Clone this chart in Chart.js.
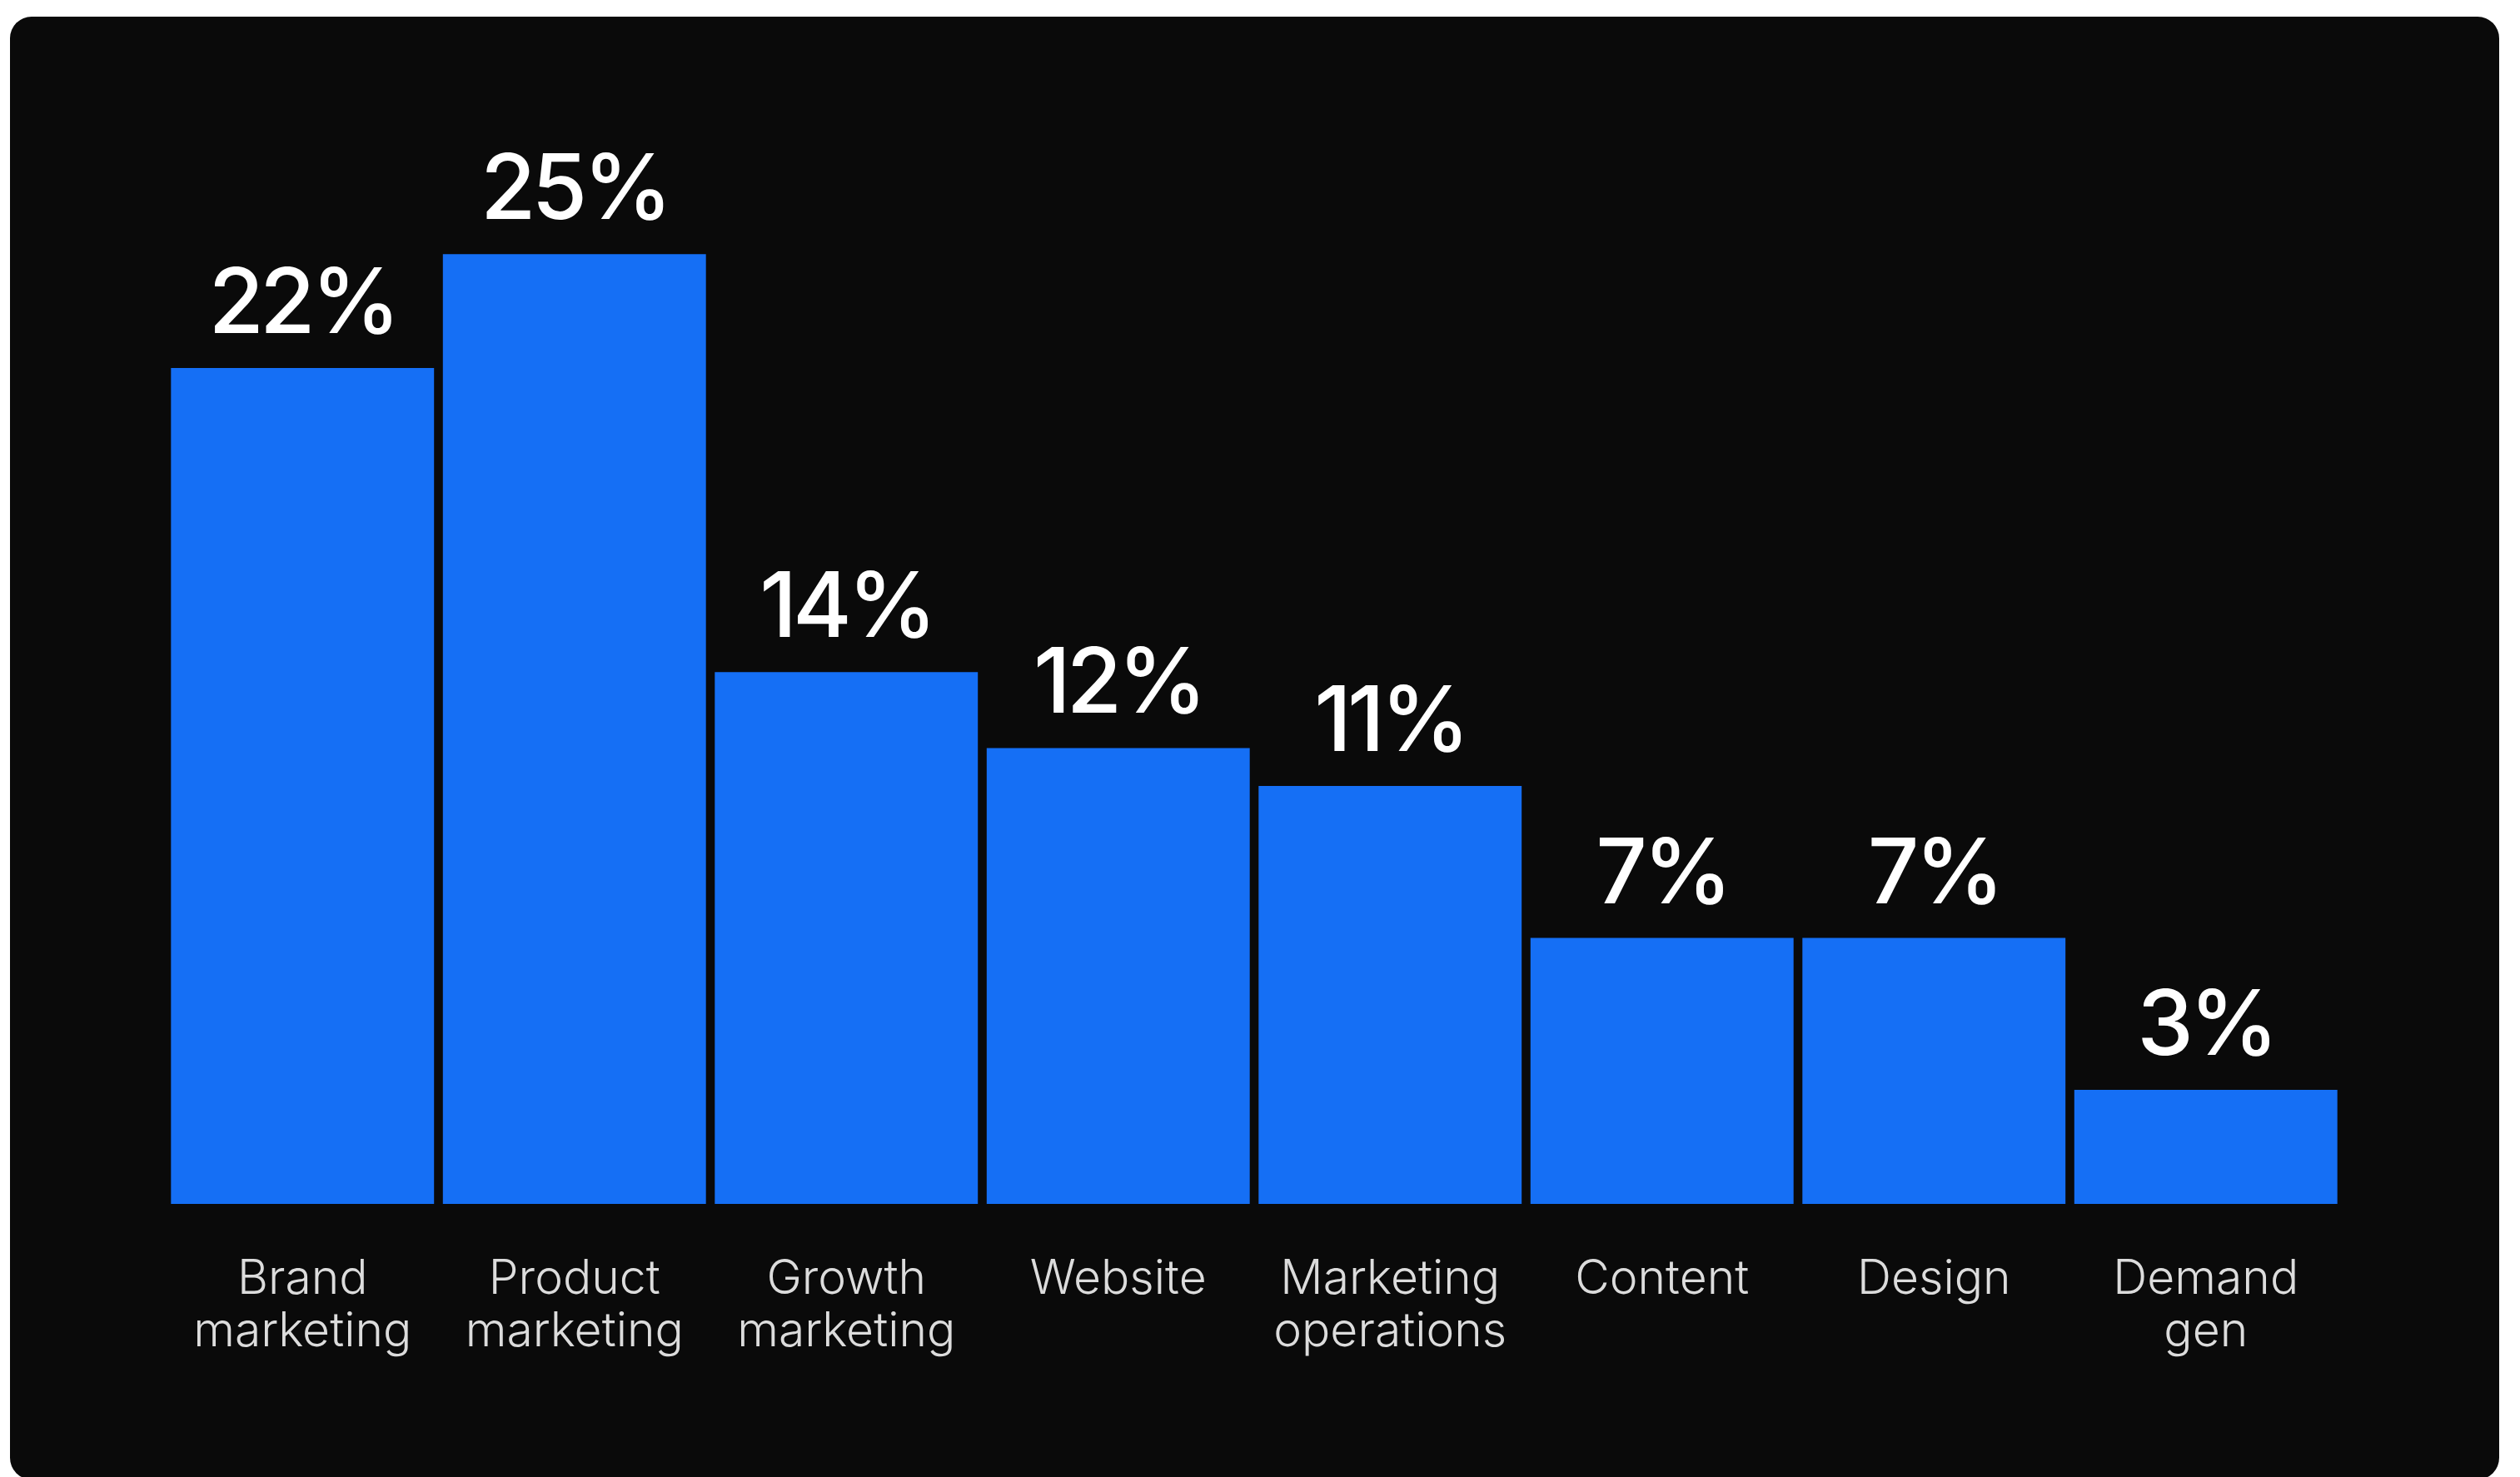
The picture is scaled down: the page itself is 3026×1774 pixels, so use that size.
<!DOCTYPE html>
<html>
<head>
<meta charset="utf-8">
<script src="https://cdn.jsdelivr.net/npm/chart.js@4/dist/chart.umd.min.js"></script>
<style>
  html, body { margin: 0; padding: 0; background: #ffffff; width: 3026px; height: 1774px; overflow: hidden; }
  #card { position: absolute; left: 12px; top: 20px; width: 2989px; height: 1757px; background: #0a0a0a; border-radius: 26px; }
  #wrap { position: absolute; left: 0; top: 0; width: 3026px; height: 1774px; }
</style>
</head>
<body>
<div id="card"></div>
<div id="wrap"><canvas id="chart" width="3026" height="1774"></canvas></div>
<script>
// Share of respondents by team
const categories = [
  ['Brand', 'marketing'],
  ['Product', 'marketing'],
  ['Growth', 'marketing'],
  ['Website'],
  ['Marketing', 'operations'],
  ['Content'],
  ['Design'],
  ['Demand', 'gen']
];
const shares = [22, 25, 14, 12, 11, 7, 7, 3];
const yMax = 30;

const BAR_BLUE = '#156ff5';
const VALUE_FONT = '500 108px Inter';

// Percentage labels above each bar, positioned from the bar elements
const valueLabels = {
  id: 'valueLabels',
  afterDatasetsDraw(chart) {
    const ctx = chart.ctx;
    const meta = chart.getDatasetMeta(0);
    ctx.save();
    ctx.font = VALUE_FONT;
    if ('letterSpacing' in ctx) ctx.letterSpacing = '-5px';
    ctx.fillStyle = '#ffffff';
    ctx.textAlign = 'center';
    ctx.textBaseline = 'alphabetic';
    meta.data.forEach((bar, i) => {
      ctx.fillText(shares[i] + '%', bar.x, bar.y - 42);
    });
    ctx.restore();
  }
};

function draw() {
  new Chart(document.getElementById('chart'), {
    type: 'bar',
    data: {
      labels: categories,
      datasets: [{
        data: shares,
        backgroundColor: BAR_BLUE,
        borderWidth: 0,
        barPercentage: 0.9675,
        categoryPercentage: 1
      }]
    },
    options: {
      responsive: false,
      animation: false,
      events: [],
      layout: { padding: { left: 200, right: 214, top: 77, bottom: 0 } },
      plugins: { legend: { display: false }, tooltip: { enabled: false } },
      scales: {
        x: {
          grid: { display: false, drawTicks: false },
          border: { display: false },
          ticks: {
            color: '#dcdcdc',
            font: { family: 'Inter', weight: 300, size: 57, lineHeight: 1.105 },
            padding: 59,
            maxRotation: 0,
            autoSkip: false
          },
          afterFit(scale) { scale.height = 328; }
        },
        y: {
          display: false,
          min: 0,
          max: yMax
        }
      }
    },
    plugins: [valueLabels]
  });
}

Promise.all([
  document.fonts.load(VALUE_FONT),
  document.fonts.load('300 57px Inter')
]).then(draw, draw);
</script>
</body>
</html>
